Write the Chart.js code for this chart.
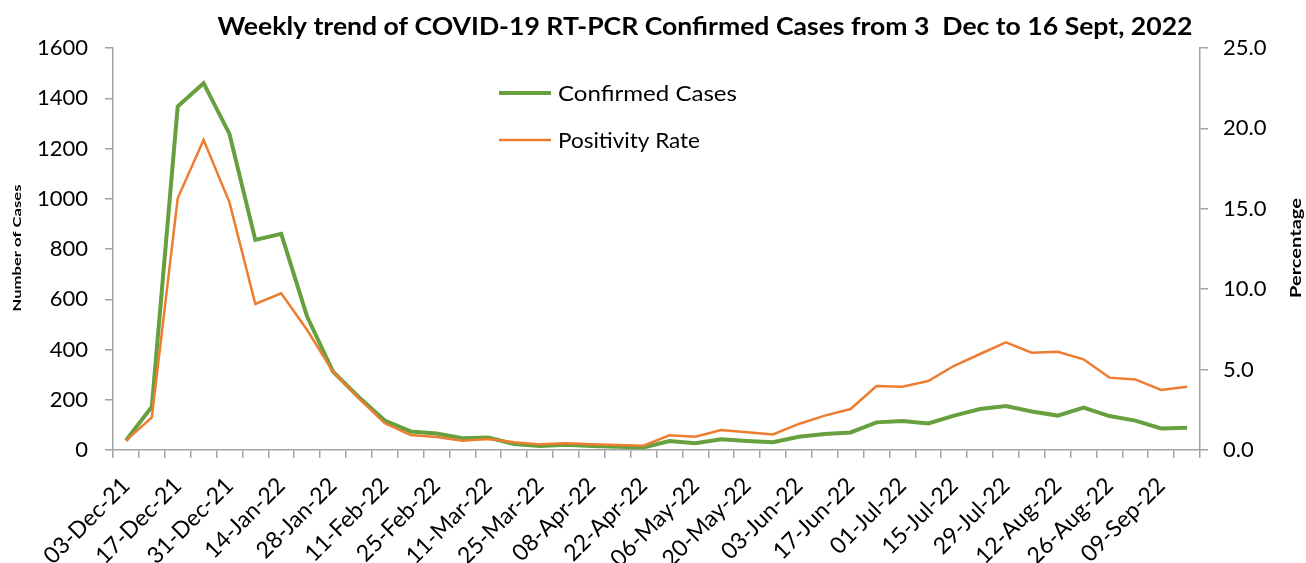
<!DOCTYPE html>
<html>
<head>
<meta charset="utf-8">
<script src="https://cdn.jsdelivr.net/npm/chart.js@4.4.0/dist/chart.umd.min.js"></script>
<style>
  html, body { margin: 0; padding: 0; background: #fff; }
  #wrap { width: 1306px; height: 563px; position: relative; }
</style>
</head>
<body>
<div id="wrap"><canvas id="myChart"></canvas></div>
<script>
var chartTitle = "Weekly trend of COVID-19 RT-PCR Confirmed Cases from 3  Dec to 16 Sept, 2022"
var leftTitle = "Number of Cases"
var rightTitle = "Percentage"
var weeks = ["03-Dec-21","10-Dec-21","17-Dec-21","24-Dec-21","31-Dec-21","07-Jan-22","14-Jan-22","21-Jan-22","28-Jan-22",
  "04-Feb-22","11-Feb-22","18-Feb-22","25-Feb-22","04-Mar-22","11-Mar-22","18-Mar-22","25-Mar-22","01-Apr-22","08-Apr-22",
  "15-Apr-22","22-Apr-22","29-Apr-22","06-May-22","13-May-22","20-May-22","27-May-22","03-Jun-22","10-Jun-22","17-Jun-22",
  "24-Jun-22","01-Jul-22","08-Jul-22","15-Jul-22","22-Jul-22","29-Jul-22","05-Aug-22","12-Aug-22","19-Aug-22","26-Aug-22",
  "02-Sep-22","09-Sep-22","16-Sep-22"]
var confirmed = [38,172,1367,1460,1258,836,860,531,312,210,117,74,66,47,50,24,16,21,16,13,10,36,27,43,36,31,53,64,70,110,115,106,137,163,175,153,137,169,135,117,86,89]
var positivity = [0.58,2.03,15.65,19.28,15.4,9.08,9.74,7.46,4.87,3.21,1.66,0.93,0.81,0.58,0.68,0.48,0.35,0.42,0.35,0.31,0.27,0.91,0.83,1.24,1.1,0.97,1.62,2.14,2.55,3.98,3.94,4.29,5.24,5.97,6.7,6.05,6.11,5.64,4.5,4.39,3.73,3.94]

var fontName = "Lato, 'Open Sans', sans-serif"
var axisGray = "#a3a3a3"

// draws text squeezed/stretched to a given length, optionally rotated
function fitText(ctx, text, font, x, y, len, rot, align){
	ctx.save()
	ctx.font = font
	var w = ctx.measureText(text).width
	ctx.translate(x, y)
	if (rot) ctx.rotate(rot)
	ctx.scale(len / w, 1)
	ctx.textAlign = align || "center"
	ctx.fillText(text, 0, 0)
	ctx.restore()
}

// title, axis titles and the stacked legend inside the plot
var extras = {
	id: "extras",
	afterDraw: function(chart){
		var ctx = chart.ctx
		ctx.save()
		ctx.fillStyle = "#000"
		ctx.textBaseline = "alphabetic"
		fitText(ctx, chartTitle, "bold 24px " + fontName, 705, 35, 975)

		ctx.textBaseline = "middle"
		fitText(ctx, leftTitle, "bold 12px " + fontName, 17, 248, 127, -Math.PI/2)
		fitText(ctx, rightTitle, "bold 16px " + fontName, 1296, 248, 100, -Math.PI/2)

		ctx.textBaseline = "alphabetic"
		var rows = [93, 140]
		var widths = [179, 142]
		chart.data.datasets.forEach(function(ds, i){
			ctx.strokeStyle = ds.borderColor
			ctx.lineWidth = ds.borderWidth
			ctx.beginPath()
			ctx.moveTo(499, rows[i])
			ctx.lineTo(551, rows[i])
			ctx.stroke()
			ctx.fillStyle = "#000"
			fitText(ctx, ds.label, "22px " + fontName, 558, rows[i] + 8, widths[i], 0, "left")
		})
		ctx.restore()
	}
}

var chart = new Chart(document.getElementById("myChart"), {
	type: "line",
	data: {
		labels: weeks,
		datasets: [
			{
				label: "Confirmed Cases",
				data: confirmed,
				borderColor: "#67a03f",
				borderWidth: 4,
				pointRadius: 0,
				tension: 0,
				yAxisID: "y",
				order: 1
			},
			{
				label: "Positivity Rate",
				data: positivity,
				borderColor: "#ed7d31",
				borderWidth: 2.5,
				pointRadius: 0,
				tension: 0,
				yAxisID: "y1",
				order: 0
			}
		]
	},
	options: {
		responsive: true,
		maintainAspectRatio: false,
		animation: false,
		layout: { padding: { top: 48, left: 0, right: 0, bottom: 0 } },
		plugins: {
			legend: { display: false },
			title: { display: false },
			tooltip: { enabled: false }
		},
		scales: {
			x: {
				offset: true,
				border: { color: axisGray, width: 1.5 },
				grid: { offset: true, drawOnChartArea: false, color: axisGray, tickLength: 8, lineWidth: 1.5 },
				ticks: {
					autoSkip: false,
					maxRotation: 45,
					minRotation: 45,
					labelOffset: 0,
					padding: 14,
					color: "#000",
					font: { family: fontName, size: 23 },
					callback: function(v, i){ return i % 2 === 0 ? this.getLabelForValue(v) : "" }
				},
				afterFit: function(s){ s.height = 113 }
			},
			y: {
				position: "left",
				min: 0,
				max: 1600,
				border: { color: axisGray, width: 1.5 },
				grid: { drawOnChartArea: false, color: axisGray, tickLength: 8, lineWidth: 1.5 },
				ticks: { stepSize: 200, padding: 17, color: "#000", font: { family: fontName, size: 22 },
					callback: function(v){ return String(v) } },
				afterFit: function(s){ s.width = 113 }
			},
			y1: {
				position: "right",
				min: 0,
				max: 25,
				border: { color: axisGray, width: 1.5 },
				grid: { drawOnChartArea: false, color: axisGray, tickLength: 8, lineWidth: 1.5 },
				ticks: { stepSize: 5, padding: 15, color: "#000", font: { family: fontName, size: 22 },
					callback: function(v){ return v.toFixed(1) } },
				afterFit: function(s){ s.width = 106 }
			}
		}
	},
	plugins: [extras]
})
</script>
</body>
</html>
